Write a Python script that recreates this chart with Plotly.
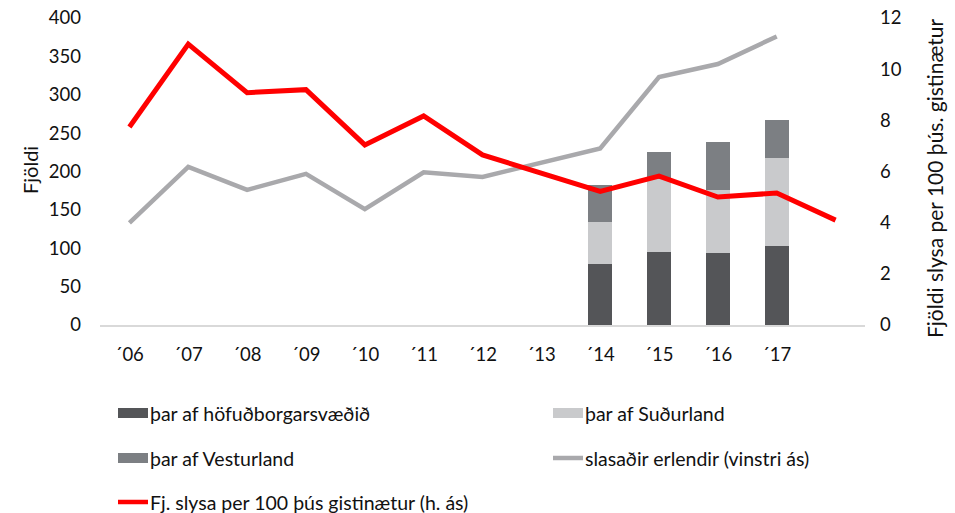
import plotly.graph_objects as go

years = ["´06", "´07", "´08", "´09", "´10", "´11", "´12", "´13", "´14", "´15", "´16", "´17", ""]
bar_years = ["´14", "´15", "´16", "´17"]
hofudborg = [80, 95, 94, 103]
sudurland = [54, 95, 82, 114]
vesturland = [49, 35, 62, 50]
slasadir = [133, 206, 176, 197, 151, 199, 193, 211, 230, 323, 340, 376]
slys_per_100 = [7.74, 10.98, 9.08, 9.2, 7.04, 8.17, 6.65, 5.94, 5.22, 5.82, 5.0, 5.16, 4.1]

FONT = "Lato"
TXT = "#111111"
x_all = list(range(len(years)))
x_bar = [years.index(y) for y in bar_years]

fig = go.Figure()
for name, vals, col in [("þar af höfuðborgarsvæðið", hofudborg, "#545558"),
                        ("þar af Suðurland", sudurland, "#C9CACC"),
                        ("þar af Vesturland", vesturland, "#7C7F83")]:
    fig.add_trace(go.Bar(x=x_bar, y=vals, name=name, marker=dict(color=col, line=dict(width=0)),
                         width=0.41, showlegend=False))
fig.add_trace(go.Scatter(x=x_all[:len(slasadir)], y=slasadir, mode="lines", name="slasaðir erlendir (vinstri ás)",
                         line=dict(color="#A9A9AC", width=4.5), showlegend=False))
fig.add_trace(go.Scatter(x=x_all, y=slys_per_100, mode="lines", yaxis="y2",
                         name="Fj. slysa per 100 þús gistinætur (h. ás)",
                         line=dict(color="#FF0000", width=5), showlegend=False))

W, H = 955, 513
L, R, T, B = 100, 90, 18, 188
pw, ph = W - L - R, H - T - B

def px(x):
    return (x - L) / pw

def py(y):
    return (H - B - y) / ph

shapes = []
annotations = []
legend_items = [
    ("bar", "#545558", "þar af höfuðborgarsvæðið", 118, 413),
    ("bar", "#C9CACC", "þar af Suðurland", 553, 413),
    ("bar", "#7C7F83", "þar af Vesturland", 118, 458),
    ("line", "#A9A9AC", "slasaðir erlendir (vinstri ás)", 553, 458),
    ("line", "#FF0000", "Fj. slysa per 100 þús gistinætur (h. ás)", 118, 502),
]
for kind, col, label, x0, yc in legend_items:
    if kind == "bar":
        shapes.append(dict(type="rect", xref="paper", yref="paper", x0=px(x0), x1=px(x0 + 30),
                           y0=py(yc + 5), y1=py(yc - 5), fillcolor=col, line=dict(width=0)))
    else:
        shapes.append(dict(type="line", xref="paper", yref="paper", x0=px(x0), x1=px(x0 + 30),
                           y0=py(yc), y1=py(yc), line=dict(color=col, width=4.5)))
    annotations.append(dict(text=label, xref="paper", yref="paper", x=px(x0 + 30), y=py(yc),
                            xanchor="left", yanchor="middle", showarrow=False,
                            font=dict(family=FONT, size=19.5, color=TXT)))

annotations.append(dict(text="Fjöldi", xref="paper", yref="paper", x=px(30), y=py(170),
                        textangle=-90, showarrow=False, xanchor="center", yanchor="middle",
                        font=dict(family=FONT, size=20, color=TXT)))
annotations.append(dict(text="Fjöldi slysa per 100 þús. gistinætur", xref="paper", yref="paper",
                        x=px(934), y=py(178), textangle=-90, showarrow=False,
                        xanchor="center", yanchor="middle",
                        font=dict(family=FONT, size=21, color=TXT)))

TICK = dict(family=FONT, size=18.5, color=TXT)
fig.update_layout(
    width=W, height=H, margin=dict(l=L, r=R, t=T, b=B, autoexpand=False),
    paper_bgcolor="white", plot_bgcolor="white",
    barmode="stack", showlegend=False,
    font=dict(family=FONT, size=18, color=TXT),
    xaxis=dict(range=[-0.5, len(years) - 0.5], tickmode="array", tickvals=x_all, ticktext=years,
               showgrid=False, zeroline=False, showline=True, linecolor="#D9D9D9", linewidth=1.5,
               ticks="", ticklabelstandoff=12, tickfont=TICK),
    yaxis=dict(range=[0, 400], dtick=50, showgrid=False, zeroline=False, showline=False,
               ticks="", ticklabelstandoff=18, tickfont=TICK),
    yaxis2=dict(range=[0, 12], dtick=2, overlaying="y", side="right", showgrid=False,
                zeroline=False, showline=False, ticks="", ticklabelstandoff=14,
                tickfont=TICK),
    shapes=shapes, annotations=annotations,
)

fig.write_html("out.html")
